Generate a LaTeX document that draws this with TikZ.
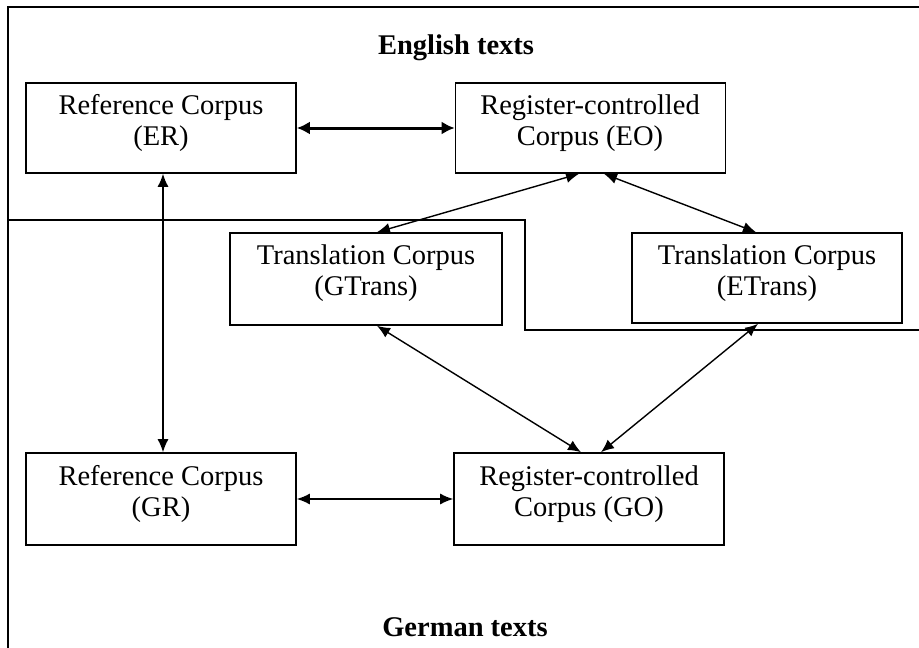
\documentclass[tikz,border=0pt]{standalone}
\usepackage{fontspec}
\setmainfont{Liberation Serif}
\usetikzlibrary{arrows.meta}
\begin{document}
\begin{tikzpicture}[x=1pt,y=-1pt,
  corpus/.style={draw=black, line width=1.6pt, rectangle, minimum width=270pt, minimum height=90pt, inner sep=0pt},
  ctext/.style={align=center, font=\fontsize{28.5}{31}\selectfont, inner sep=0pt},
  title/.style={font=\fontsize{28.5}{31}\selectfont\bfseries, inner sep=0pt},
  frame/.style={line width=1.6pt},
  link/.style={line width=1.4pt, {Latex[length=13pt,width=11pt]}-{Latex[length=13pt,width=11pt]}},
  thicklink/.style={line width=3pt, {Latex[length=13pt,width=13pt]}-{Latex[length=13pt,width=13pt]}}
]
\useasboundingbox (0,0) rectangle (919,648);
\fill[white] (0,0) rectangle (919,648);

% region frames
\draw[frame] (919,7) -- (8,7) -- (8,648);
\draw[frame] (8,220) -- (525,220) -- (525,330) -- (919,330);

% boxes
\node[corpus] (er) at (161,128) {};
\node[corpus] (eo) at (590.5,128) {};
\node[corpus, minimum width=272pt, minimum height=92pt] (gt) at (366,279) {};
\node[corpus] (et) at (767,278) {};
\node[corpus, minimum height=92pt] (gr) at (161,499) {};
\node[corpus, minimum height=92pt] (go) at (589,499) {};

% texts
\node[ctext] (ertx) at (161,123) {Reference Corpus\\(ER)};
\node[ctext] (eotx) at (590,123) {Register-controlled\\Corpus (EO)};
\node[ctext] (gttx) at (366,273) {Translation Corpus\\(GTrans)};
\node[ctext] (ettx) at (767,273) {Translation Corpus\\(ETrans)};
\node[ctext] (grtx) at (161,494) {Reference Corpus\\(GR)};
\node[ctext] (gotx) at (589,494) {Register-controlled\\Corpus (GO)};

\node[title] (en) at (456,48) {English texts};
\node[title] (de) at (465,627) {German texts};

% connectors
\draw[thicklink] (er.east) -- (eo.west);
\draw[link] (gr.east) -- (go.west);
\draw[link] ([xshift=2pt]er.south) -- ([xshift=2pt]gr.north);
\draw[link] ([xshift=-11.5pt]eo.south) -- ([xshift=11pt]gt.north);
\draw[link] ([xshift=13.5pt]eo.south) -- ([xshift=-11pt]et.north);
\draw[link] ([xshift=11pt]gt.south) -- ([xshift=-8pt]go.north);
\draw[link] ([xshift=-9pt]et.south) -- ([xshift=12pt]go.north);
\end{tikzpicture}
\end{document}
